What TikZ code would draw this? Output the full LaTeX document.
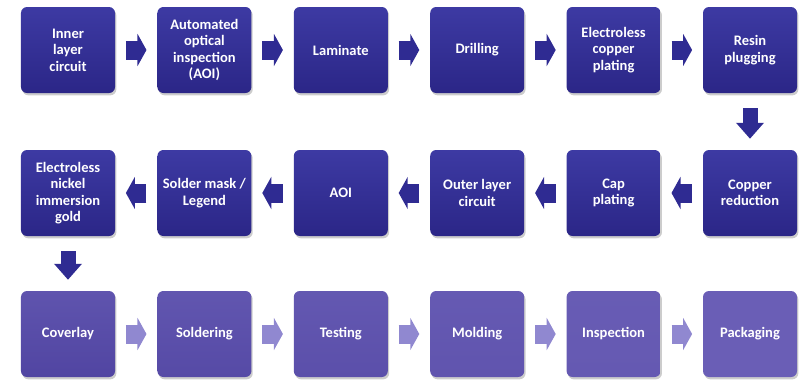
\documentclass[tikz,border=0pt]{standalone}
\usepackage{fontspec}
\setmainfont{Carlito}
\usetikzlibrary{arrows.meta, positioning, shadows}
\definecolor{deeptop}{HTML}{3D3AA3}
\definecolor{deepbot}{HTML}{2B2687}
\definecolor{deeparrow}{HTML}{2F2B92}
\definecolor{paletop}{HTML}{5F54AE}
\definecolor{palebot}{HTML}{5145A2}
\definecolor{paleend}{HTML}{6A5EB6}
\definecolor{palearrow}{HTML}{9088D0}
\tikzset{
  stage/.style={rectangle, rounded corners=0.18cm, minimum width=2.82cm, minimum height=2.58cm,
    top color=deeptop, bottom color=deepbot, draw=none, text=white, align=center,
    font=\fontsize{12.4}{14}\selectfont\bfseries,
    drop shadow={shadow xshift=0.04cm, shadow yshift=-0.07cm, fill=black, opacity=0.2}},
  stagepale/.style={stage, top color=paleend!#1!paletop, bottom color=paleend!#1!palebot},
  flow/.style={draw=deeparrow, line width=0.57cm,
    -{Triangle[length=0.27cm, width=0.96cm]}, shorten <=0.32cm, shorten >=0.32cm},
  flowpale/.style={flow, draw=palearrow},
  drop/.style={draw=deeparrow, line width=0.45cm,
    -{Triangle[length=0.48cm, width=0.81cm]}, shorten <=0.45cm, shorten >=0.33cm}
}
\begin{document}
\begin{tikzpicture}[x=0.03cm, y=-0.03cm]
\useasboundingbox (0,0) rectangle (800,385);
% first row, left to right
\node[stage] (inner)    at (68,50)    {Inner\\layer\\circuit};
\node[stage] (aoione)   at (204.4,50) {Automated\\optical\\inspection\\(AOI)};
\node[stage] (laminate) at (340.8,50) {Laminate};
\node[stage] (drill)    at (477.2,50) {Drilling};
\node[stage] (eplate)   at (613.6,50) {Electroless\\copper\\plating};
\node[stage] (resin)    at (750,50)   {Resin\\plugging};
% second row, right to left
\node[stage] (copper)   at (750,193)   {Copper\\reduction};
\node[stage] (cap)      at (613.6,193) {Cap\\plating};
\node[stage] (outer)    at (477.2,193) {Outer layer\\circuit};
\node[stage] (aoitwo)   at (340.8,193) {AOI};
\node[stage] (mask)     at (204.4,193) {Solder mask /\\Legend};
\node[stage] (enig)     at (68,193)    {Electroless\\nickel\\immersion\\gold};
% third row, lighter boxes
\node[stagepale=0]   (cover)   at (68,334)    {Coverlay};
\node[stagepale=20]  (solder)  at (204.4,334) {Soldering};
\node[stagepale=40]  (test)    at (340.8,334) {Testing};
\node[stagepale=60]  (mold)    at (477.2,334) {Molding};
\node[stagepale=80]  (inspect) at (613.6,334) {Inspection};
\node[stagepale=100] (pack)    at (750,334)   {Packaging};

% arrows
\draw[flow] (inner) -- (aoione);
\draw[flow] (aoione) -- (laminate);
\draw[flow] (laminate) -- (drill);
\draw[flow] (drill) -- (eplate);
\draw[flow] (eplate) -- (resin);
\draw[drop] (resin) -- (copper);
\draw[flow] (copper) -- (cap);
\draw[flow] (cap) -- (outer);
\draw[flow] (outer) -- (aoitwo);
\draw[flow] (aoitwo) -- (mask);
\draw[flow] (mask) -- (enig);
\draw[drop] (enig) -- (cover);
\draw[flowpale] (cover) -- (solder);
\draw[flowpale] (solder) -- (test);
\draw[flowpale] (test) -- (mold);
\draw[flowpale] (mold) -- (inspect);
\draw[flowpale] (inspect) -- (pack);
\end{tikzpicture}
\end{document}
